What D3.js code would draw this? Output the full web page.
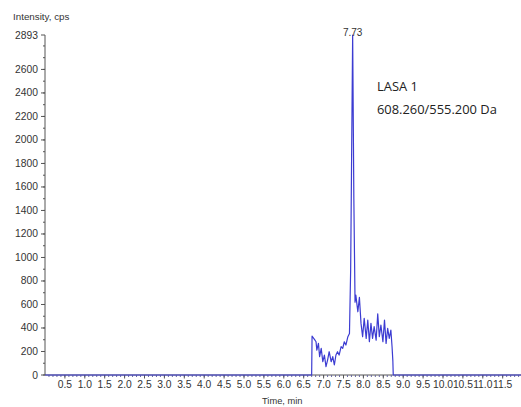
<!DOCTYPE html>
<html><head><meta charset="utf-8">
<script src="https://cdn.jsdelivr.net/npm/d3@7"></script>
<style>
html,body{margin:0;padding:0;background:#fff;}
svg{display:block;font-family:"Liberation Sans",Arial,sans-serif;}
</style></head>
<body>
<svg id="c" width="521" height="407"></svg>
<script>
// Chromatogram data (time in min, intensity in cps)
const times = [0.0, 6.70, 6.71, 6.77, 6.81, 6.83, 6.87, 6.90, 6.94, 6.98, 7.02, 7.06, 7.10, 7.14, 7.19, 7.23, 7.27, 7.31, 7.35, 7.39, 7.44, 7.48, 7.52, 7.56, 7.61, 7.65, 7.68, 7.70, 7.73, 7.76, 7.79, 7.81, 7.86, 7.90, 7.94, 7.98, 8.02, 8.07, 8.11, 8.15, 8.19, 8.23, 8.27, 8.32, 8.36, 8.40, 8.44, 8.49, 8.53, 8.57, 8.61, 8.65, 8.69, 8.72, 8.74, 8.75, 12.0];
const intensity = [0, 0, 330, 303, 283, 212, 269, 156, 227, 113, 170, 71, 127, 198, 113, 156, 85, 170, 198, 170, 241, 227, 283, 255, 326, 354, 900, 1700, 2893, 1500, 620, 680, 538, 660, 439, 326, 482, 312, 467, 283, 439, 312, 411, 297, 520, 326, 425, 283, 467, 269, 397, 312, 382, 241, 120, 0, 0];
const yTickValues = [0, 200, 400, 600, 800, 1000, 1200, 1400, 1600, 1800, 2000, 2200, 2400, 2600, 2893];
const xTickValues = [0.5, 1.0, 1.5, 2.0, 2.5, 3.0, 3.5, 4.0, 4.5, 5.0, 5.5, 6.0, 6.5, 7.0, 7.5, 8.0, 8.5, 9.0, 9.5, 10.0, 10.5, 11.0, 11.5];
const peakTime = 7.73, peakValue = 2893;
const yTitle = "Intensity, cps", xTitle = "Time, min";
const annot = ["LASA 1", "608.260/555.200 Da"];

const svg = d3.select("#c");
const x = d3.scaleLinear().domain([0, 12]).range([45, 45 + 12 * 39.8]);
const y = d3.scaleLinear().domain([0, 2893]).range([375, 35]);
const axisColor = "#555";
const textColor = "#333";

// Y axis
const yMinor = d3.range(0, 2893, 100);
const gy = svg.append("g").attr("transform", `translate(${x(0)},0)`);
gy.append("line").attr("x1", 0).attr("x2", 0).attr("y1", y(0)).attr("y2", y(2893)).attr("stroke", axisColor);
gy.selectAll("line.mi").data(yMinor).join("line").attr("class", "mi")
  .attr("x1", -2).attr("x2", 0).attr("y1", d => y(d)).attr("y2", d => y(d)).attr("stroke", axisColor);
gy.selectAll("line.ma").data(yTickValues).join("line").attr("class", "ma")
  .attr("x1", -4).attr("x2", 0).attr("y1", d => y(d)).attr("y2", d => y(d)).attr("stroke", axisColor);
gy.selectAll("text").data(yTickValues).join("text")
  .attr("x", -7).attr("y", d => y(d) + 3.5).attr("text-anchor", "end")
  .attr("font-size", 10.3).attr("fill", textColor).text(d => d);

// X axis
const xMinor = d3.range(0.1, 11.95, 0.1);
const gx = svg.append("g").attr("transform", `translate(0,${y(0)})`);
gx.append("line").attr("x1", x(0)).attr("x2", x(12)).attr("y1", 0).attr("y2", 0).attr("stroke", axisColor);
gx.selectAll("line.mi").data(xMinor).join("line").attr("class", "mi")
  .attr("x1", d => x(d)).attr("x2", d => x(d)).attr("y1", 0).attr("y2", 2).attr("stroke", "#6a6aa0");
gx.selectAll("line.ma").data(xTickValues).join("line").attr("class", "ma")
  .attr("x1", d => x(d)).attr("x2", d => x(d)).attr("y1", 0).attr("y2", 3.5).attr("stroke", axisColor);
gx.selectAll("text").data(xTickValues).join("text")
  .attr("x", d => x(d)).attr("y", 13).attr("text-anchor", "middle")
  .attr("font-size", 10.3).attr("fill", textColor).text(d => d.toFixed(1));

// Trace
const line = d3.line().x((d, i) => x(times[i])).y(d => y(d));
svg.append("path").datum(intensity).attr("d", line)
  .attr("fill", "none").attr("stroke", "#3c3cd2").attr("stroke-width", 1.2).attr("stroke-linejoin", "round");

// Titles
svg.append("text").attr("x", 13).attr("y", 20).attr("font-size", 9.8).attr("fill", textColor).text(yTitle);
svg.append("text").attr("x", 262).attr("y", 404).attr("font-size", 9.3).attr("fill", textColor).text(xTitle);

// Peak label
svg.append("text").attr("x", x(peakTime)).attr("y", y(peakValue) + 1).attr("text-anchor", "middle")
  .attr("font-size", 10).attr("fill", textColor).text(peakTime.toFixed(2));

// Annotation
svg.selectAll("text.an").data(annot).join("text").attr("class", "an")
  .attr("x", 377).attr("y", (d, i) => 91 + i * 23)
  .attr("font-family", "'Open Sans',sans-serif").attr("font-size", 12.9).attr("fill", "#222").text(d => d);
</script>
</body></html>
